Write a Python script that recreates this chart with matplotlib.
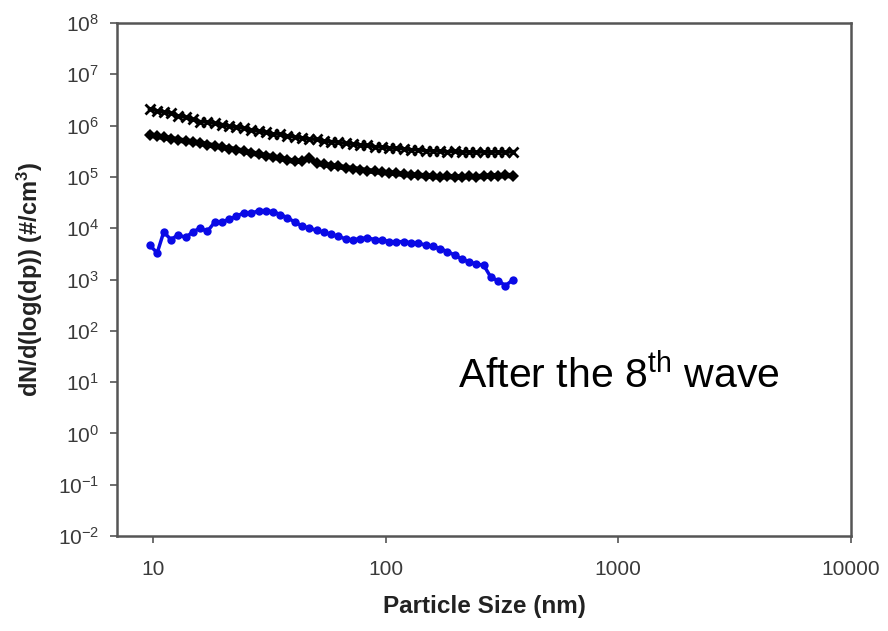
import numpy as np
import matplotlib
matplotlib.use("Agg")
import matplotlib.pyplot as plt
from matplotlib.ticker import LogLocator, FixedLocator, NullLocator, FixedFormatter

plt.rcParams["font.family"] = ["Liberation Sans", "DejaVu Sans"]
plt.rcParams["mathtext.fontset"] = "custom"
plt.rcParams["mathtext.rm"] = "Liberation Sans"
plt.rcParams["mathtext.it"] = "Liberation Sans:italic"
plt.rcParams["mathtext.bf"] = "Liberation Sans:bold"
plt.rcParams["axes.unicode_minus"] = False

# ---- data ----
diam_nm = [9.65, 10.4, 11.1, 11.9, 12.8, 13.8, 14.8, 15.9, 17.1, 18.4,
           19.8, 21.2, 22.8, 24.5, 26.4, 28.4, 30.5, 32.8, 35.2, 37.8,
           40.6, 43.7, 46.9, 50.4, 54.2, 58.2, 62.6, 67.2, 72.2, 77.6,
           83.4, 89.6, 96.3, 103.5, 111.2, 119.5, 128.4, 138.0, 148.3, 159.4,
           171.3, 184.1, 197.8, 212.6, 228.4, 245.5, 263.8, 283.5, 304.6, 327.4,
           351.8]

upper_black = [2.14e6, 1.95e6, 1.86e6, 1.74e6, 1.55e6, 1.45e6, 1.32e6, 1.20e6, 1.17e6, 1.10e6,
               1.05e6, 9.8e5, 9.3e5, 8.9e5, 8.1e5, 7.8e5, 7.4e5, 6.9e5, 6.8e5, 6.3e5,
               6.0e5, 5.8e5, 5.5e5, 5.4e5, 5.0e5, 4.9e5, 4.7e5, 4.5e5, 4.4e5, 4.2e5,
               4.1e5, 3.9e5, 3.8e5, 3.7e5, 3.6e5, 3.55e5, 3.4e5, 3.4e5, 3.25e5, 3.2e5,
               3.2e5, 3.1e5, 3.15e5, 3.0e5, 3.1e5, 3.0e5, 3.1e5, 3.0e5, 3.1e5, 3.0e5,
               3.1e5]

lower_black = [6.6e5, 6.2e5, 5.9e5, 5.6e5, 5.25e5, 5.0e5, 4.8e5, 4.55e5, 4.25e5, 4.0e5,
               3.8e5, 3.55e5, 3.4e5, 3.15e5, 2.95e5, 2.75e5, 2.6e5, 2.45e5, 2.3e5, 2.15e5,
               2.0e5, 2.05e5, 2.35e5, 1.85e5, 1.75e5, 1.65e5, 1.6e5, 1.5e5, 1.45e5, 1.38e5,
               1.32e5, 1.28e5, 1.23e5, 1.2e5, 1.17e5, 1.12e5, 1.1e5, 1.07e5, 1.05e5, 1.02e5,
               1.0e5, 1.02e5, 1.0e5, 1.0e5, 1.02e5, 1.0e5, 1.03e5, 1.05e5, 1.05e5, 1.07e5,
               1.05e5]

blue = [4.7e3, 3.3e3, 8.5e3, 6.0e3, 7.4e3, 6.6e3, 8.5e3, 1.0e4, 8.7e3, 1.32e4,
        1.32e4, 1.5e4, 1.7e4, 2.0e4, 1.95e4, 2.2e4, 2.2e4, 2.1e4, 1.85e4, 1.6e4,
        1.32e4, 1.1e4, 1.0e4, 9.1e3, 8.3e3, 7.6e3, 6.9e3, 6.2e3, 5.9e3, 6.3e3,
        6.5e3, 6.0e3, 5.9e3, 5.5e3, 5.4e3, 5.5e3, 5.2e3, 5.1e3, 4.7e3, 4.4e3,
        4.0e3, 3.5e3, 3.0e3, 2.5e3, 2.2e3, 2.0e3, 1.9e3, 1.1e3, 9.5e2, 7.6e2,
        9.8e2]

x_ticks = [10, 100, 1000, 10000]
x_labels = ["10", "100", "1000", "10000"]

TICK_COLOR = "#3a3a3a"
SPINE_COLOR = "#555555"

fig = plt.figure(figsize=(8.88, 6.31), dpi=100)
ax = fig.add_axes([0.132, 0.1506, 0.826, 0.8129])

ax.plot(diam_nm, upper_black, color="black", lw=2.5, marker="x",
        ms=7, mew=2.0)
ax.plot(diam_nm, lower_black, color="black", lw=4.0, marker="D",
        ms=6, mew=0)
ax.plot(diam_nm, blue, color="#0a0ae6", lw=2.5, marker="o",
        ms=6, mew=0)

ax.set_xscale("log")
ax.set_yscale("log")
ax.set_xlim(7.0, 10000)
ax.set_ylim(1e-2, 1e8)

ax.xaxis.set_major_locator(FixedLocator(x_ticks))
ax.xaxis.set_major_formatter(FixedFormatter(x_labels))
ax.xaxis.set_minor_locator(NullLocator())
ax.yaxis.set_major_locator(LogLocator(base=10, numticks=20))
ax.yaxis.set_minor_locator(NullLocator())

ax.tick_params(axis="both", direction="out", length=5, width=1.2,
               color=SPINE_COLOR, labelcolor=TICK_COLOR, labelsize=15)
ax.tick_params(axis="x", pad=12)
ax.tick_params(axis="y", pad=8)

for sp in ax.spines.values():
    sp.set_color(SPINE_COLOR)
    sp.set_linewidth(1.8)

ax.set_xlabel("Particle Size (nm)", fontsize=17.5, fontweight="bold",
              color="#222222", labelpad=12)
ax.set_ylabel("dN/d(log(dp)) (#/cm$^\\mathbf{3}$)", fontsize=17,
              fontweight="bold", color="#222222", labelpad=9)

ax.text(0.464, 0.314, "After the 8$^{\\rm th}$ wave", transform=ax.transAxes,
        fontsize=29.5, color="black", ha="left", va="center")

fig.savefig("out.png", dpi=100)
